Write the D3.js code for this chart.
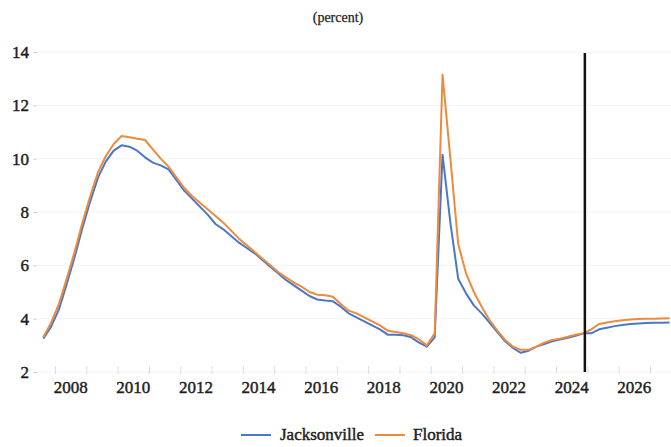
<!DOCTYPE html>
<html>
<head>
<meta charset="utf-8">
<script src="https://cdn.jsdelivr.net/npm/d3@7/dist/d3.min.js"></script>
<style>
  html, body { margin: 0; padding: 0; background: #fff; }
  svg { display: block; }
</style>
</head>
<body>
<svg id="chart" width="671" height="447"></svg>
<script>
// Unemployment rate, quarterly, 2007Q3 through 2027Q3 (percent)
const firstYear = 2007, firstQuarter = 3;
const jacksonville = [
  3.25, 3.7,
  4.35, 5.3, 6.3, 7.4,
  8.4, 9.3, 9.9, 10.3,
  10.5, 10.45, 10.3, 10.05,
  9.85, 9.75, 9.6, 9.2,
  8.8, 8.5, 8.2, 7.9,
  7.55, 7.35, 7.1, 6.85,
  6.65, 6.45, 6.2, 5.95,
  5.7, 5.45, 5.25, 5.05,
  4.85, 4.72, 4.68, 4.65,
  4.45, 4.2, 4.05, 3.9,
  3.75, 3.6, 3.4, 3.4,
  3.38, 3.3, 3.1, 2.95,
  3.3, 10.15, 7.6, 5.5,
  4.95, 4.5, 4.2, 3.85,
  3.5, 3.15, 2.9, 2.72,
  2.8, 2.95, 3.05, 3.15,
  3.22, 3.28, 3.36, 3.45,
  3.45, 3.6, 3.66, 3.72,
  3.76, 3.8, 3.82, 3.84,
  3.85, 3.85, 3.86
];
const florida = [
  3.3, 3.85,
  4.55, 5.5, 6.5, 7.6,
  8.6, 9.5, 10.1, 10.55,
  10.85, 10.8, 10.75, 10.7,
  10.35, 10.0, 9.7, 9.3,
  8.9, 8.6, 8.35, 8.1,
  7.85, 7.6, 7.3, 7.0,
  6.75, 6.5, 6.25, 6.0,
  5.75, 5.55, 5.35, 5.2,
  5.0, 4.9, 4.88, 4.82,
  4.55, 4.3, 4.2, 4.05,
  3.9, 3.75, 3.55, 3.5,
  3.45, 3.38, 3.22, 3.0,
  3.45, 13.15, 10.0, 6.8,
  5.7, 5.0, 4.45, 3.95,
  3.55, 3.2, 2.95, 2.83,
  2.83, 2.95, 3.1, 3.2,
  3.25, 3.32, 3.4, 3.45,
  3.6, 3.8, 3.86, 3.9,
  3.94, 3.97, 3.99, 4.0,
  4.0, 4.01, 4.02
];
const yTicks = [2, 4, 6, 8, 10, 12, 14];
const yearLabels = [2008, 2010, 2012, 2014, 2016, 2018, 2020, 2022, 2024, 2026];
const forecastStart = 2024.92;
const seriesNames = ["Jacksonville", "Florida"];
const seriesColors = ["#4a78c8", "#ee8a3c"];

// time of each quarter, placed at the middle of the quarter
const quarterTime = i => {
  const k = (firstQuarter - 1) + i;
  return firstYear + Math.floor(k / 4) + (k % 4) / 4 + 0.125;
};

const FONT = "Liberation Serif";
// serif text drawn slightly heavy
const heavy = sel => sel.attr("font-family", FONT).attr("fill", "#1e1e1e")
  .attr("stroke", "#1e1e1e").attr("stroke-width", 0.45);

const svg = d3.select("#chart");
const x = d3.scaleLinear().domain([2008, 2027]).range([55, 650]);
const y = d3.scaleLinear().domain([2, 14]).range([372, 52]);

// title
svg.append("text").attr("x", 338).attr("y", 22).attr("text-anchor", "middle")
  .attr("font-size", 14).call(heavy).attr("stroke-width", 0.25).text("(percent)");

// faint horizontal grid
svg.append("g").selectAll("line").data(yTicks).join("line")
  .attr("x1", 38).attr("x2", 671)
  .attr("y1", d => y(d)).attr("y2", d => y(d))
  .attr("stroke", "#f3f3f3").attr("stroke-width", 1);

// y axis
const yAxis = svg.append("g").attr("transform", "translate(37,0)")
  .call(d3.axisLeft(y).tickValues(yTicks).tickSize(4).tickPadding(4).tickFormat(d3.format("d")));
yAxis.select(".domain").remove();
yAxis.selectAll(".tick line").attr("stroke", "#cfcfcf");
yAxis.selectAll(".tick text").attr("font-size", 17).call(heavy);

// x axis: ticks at year boundaries, labels mid-year every other year
const xAxis = svg.append("g").attr("transform", "translate(0,366)")
  .call(d3.axisBottom(x).tickValues(d3.range(2008, 2028)).tickSize(8).tickFormat(""));
xAxis.select(".domain").remove();
xAxis.selectAll(".tick line").attr("stroke", "#dedede");
svg.append("g").selectAll("text").data(yearLabels).join("text")
  .attr("x", d => x(d + 0.5)).attr("y", 393).attr("text-anchor", "middle")
  .attr("font-size", 17).call(heavy).text(d => d);

// series lines
const line = d3.line().x((d, i) => x(quarterTime(i))).y(d => y(d));
[jacksonville, florida].forEach((vals, k) => {
  svg.append("path").datum(vals)
    .attr("fill", "none").attr("stroke", seriesColors[k])
    .attr("stroke-width", 2).attr("stroke-linejoin", "round")
    .attr("d", line);
});

// forecast divider
svg.append("line")
  .attr("x1", x(forecastStart)).attr("x2", x(forecastStart))
  .attr("y1", y(14) + 1).attr("y2", y(2))
  .attr("stroke", "#111").attr("stroke-width", 2.5);

// legend
const legend = svg.append("g").attr("transform", "translate(241,435)");
const legendItems = [{ dx: 0, tx: 39 }, { dx: 134, tx: 172 }];
seriesNames.forEach((name, k) => {
  legend.append("line").attr("x1", legendItems[k].dx).attr("x2", legendItems[k].dx + 30)
    .attr("y1", 0).attr("y2", 0).attr("stroke", seriesColors[k]).attr("stroke-width", 2);
  legend.append("text").attr("x", legendItems[k].tx).attr("y", 5)
    .attr("font-size", 17).call(heavy).text(name);
});
</script>
</body>
</html>
